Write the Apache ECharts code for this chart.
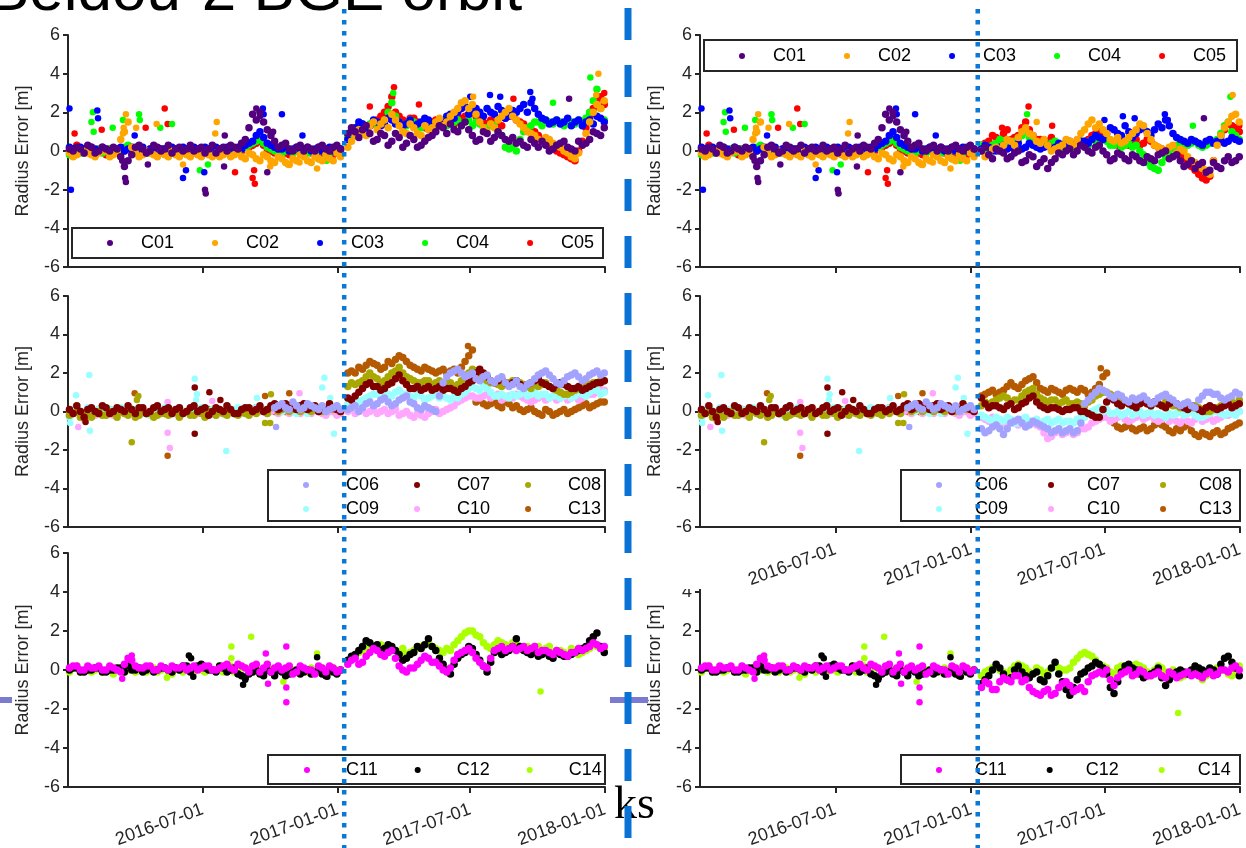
<!DOCTYPE html>
<html><head><meta charset="utf-8">
<script src="https://cdn.jsdelivr.net/npm/echarts@6/dist/echarts.min.js"></script>
<style>html,body{margin:0;padding:0;background:#fff;}#c{width:1246px;height:848px;}</style>
</head><body><div id="c"></div><script>
// ---------- sampling dates ----------
const preDates = ['2016-01-01','2016-01-11','2016-01-21','2016-01-31','2016-02-10','2016-02-20','2016-03-01','2016-03-11','2016-03-21','2016-03-31','2016-04-10','2016-04-20','2016-04-30','2016-05-10','2016-05-20','2016-05-30','2016-06-09','2016-06-19','2016-06-29','2016-07-09','2016-07-19','2016-07-29','2016-08-08','2016-08-18','2016-08-28','2016-09-07','2016-09-17','2016-09-27','2016-10-07','2016-10-17','2016-10-27','2016-11-06','2016-11-16','2016-11-26','2016-12-06','2016-12-16','2016-12-26','2017-01-05'];
const preMidDates = ['2016-01-06','2016-01-16','2016-01-26','2016-02-05','2016-02-15','2016-02-25','2016-03-06','2016-03-16','2016-03-26','2016-04-05','2016-04-15','2016-04-25','2016-05-05','2016-05-15','2016-05-25','2016-06-04','2016-06-14','2016-06-24','2016-07-04','2016-07-14','2016-07-24','2016-08-03','2016-08-13','2016-08-23','2016-09-02','2016-09-12','2016-09-22','2016-10-02','2016-10-12','2016-10-22','2016-11-01','2016-11-11','2016-11-21','2016-12-01','2016-12-11','2016-12-21','2016-12-31'];
const postDates = ['2017-01-15','2017-01-25','2017-02-04','2017-02-14','2017-02-24','2017-03-06','2017-03-16','2017-03-26','2017-04-05','2017-04-15','2017-04-25','2017-05-05','2017-05-15','2017-05-25','2017-06-04','2017-06-14','2017-06-24','2017-07-04','2017-07-14','2017-07-24','2017-08-03','2017-08-13','2017-08-23','2017-09-02','2017-09-12','2017-09-22','2017-10-02','2017-10-12','2017-10-22','2017-11-01','2017-11-11','2017-11-21','2017-12-01','2017-12-11','2017-12-21','2017-12-31'];
const postMidDates = ['2017-01-20','2017-01-30','2017-02-09','2017-02-19','2017-03-01','2017-03-11','2017-03-21','2017-03-31','2017-04-10','2017-04-20','2017-04-30','2017-05-10','2017-05-20','2017-05-30','2017-06-09','2017-06-19','2017-06-29','2017-07-09','2017-07-19','2017-07-29','2017-08-08','2017-08-18','2017-08-28','2017-09-07','2017-09-17','2017-09-27','2017-10-07','2017-10-17','2017-10-27','2017-11-06','2017-11-16','2017-11-26','2017-12-06','2017-12-16','2017-12-26'];
const eventDate = '2017-01-10';
const xAxisStart = '2015-12-30', xAxisEnd = '2018-01-01';
const xTickLabels = ['2016-07-01','2017-01-01','2017-07-01','2018-01-01'];
const yMin = -6, yMax = 6, yStep = 2;

// ---------- satellites ----------
const satNames  = ['C01','C02','C03','C04','C05','C06','C07','C08','C09','C10','C13','C11','C12','C14'];
const satColors = ['#52007f','#ffa500','#0000ff','#00ff00','#ff0000','#a3a3ff','#800000','#a8a800','#99ffff','#ffa6ff','#b55a00','#ff00ff','#000000','#aaff00'];
const rowTop = ['C01','C02','C03','C04','C05'];
const rowMid = ['C06','C07','C08','C09','C10','C13'];
const rowBot = ['C11','C12','C14'];

// ---------- values before the event (shared by both columns) ----------
const C01_pre = [0.1,0.2,-0.1,0.2,0.0,0.1,0.2,-0.3,-0.5,0.2,0.1,0.0,0.2,0.1,-0.1,0.2,0.1,0.0,0.2,0.1,-0.1,0.2,0.3,0.1,0.6,1.9,2.0,1.1,0.5,0.3,0.1,0.2,0.0,0.1,0.2,0.1,0.2,0.1];
const C02_pre = [-0.1,-0.2,0.0,-0.2,-0.1,0.0,-0.2,0.6,1.5,-0.1,-0.2,-0.1,-0.3,-0.2,0.0,-0.3,-0.2,-0.1,-0.3,-0.2,-0.1,-0.2,-0.3,-0.1,-0.4,-0.2,-0.5,-0.3,-0.6,-0.4,-0.7,-0.5,-0.3,-0.6,-0.4,-0.2,-0.5,-0.3];
const C03_pre = [0.2,0.0,0.1,0.2,0.0,0.1,0.0,0.2,0.1,0.0,0.2,0.1,0.0,0.1,0.2,0.0,0.1,0.2,0.0,0.1,0.2,0.0,0.1,0.2,0.3,0.5,1.0,0.4,0.2,0.1,0.0,0.2,0.1,0.0,0.2,0.1,0.0,0.1];
const C04_pre = [-0.2,0.1,0.0,-0.1,0.1,0.0,-0.1,0.1,0.3,0.0,0.1,-0.1,0.0,0.1,-0.1,0.0,0.1,-0.1,0.0,0.1,0.0,-0.1,0.1,0.0,0.2,0.4,0.6,0.2,0.0,-0.1,0.1,0.0,-0.2,0.0,-0.4,0.1,0.0,0.1];
const C05_pre = [0.0,0.3,-0.1,0.0,0.1,-0.2,0.0,0.1,0.2,-0.1,0.0,0.1,-0.2,0.0,0.1,-0.1,0.0,0.1,-0.2,0.0,0.1,-0.1,0.0,0.1,0.2,0.3,0.5,0.1,-0.1,0.0,-0.2,0.1,0.0,-0.1,0.1,0.0,-0.2,0.0];
const C06_pre = [null,null,null,null,null,null,null,null,null,null,null,null,null,null,null,null,null,null,null,null,null,null,null,null,null,null,null,null,0.2,0.4,0.1,0.3,0.2,0.3,0.1,0.0,0.2,0.1];
const C07_pre = [0.1,0.3,-0.3,0.2,-0.1,0.2,0.0,0.1,0.3,-0.1,0.2,0.0,0.3,0.1,-0.1,0.2,0.0,0.3,0.1,-0.2,0.2,0.0,0.1,-0.1,0.2,0.0,0.3,0.1,0.4,0.2,0.3,0.1,0.4,0.2,0.0,0.1,0.2,0.0];
const C08_pre = [-0.2,0.0,-0.1,-0.3,0.0,-0.2,-0.1,0.0,-0.2,-0.3,0.1,-0.1,-0.2,0.0,-0.1,-0.3,0.0,-0.2,-0.1,0.0,-0.2,-0.1,0.0,-0.2,-0.1,0.0,0.1,-0.1,0.3,0.1,0.0,0.2,0.1,0.0,0.1,0.0,0.1,0.0];
const C09_pre = [-0.3,0.2,0.0,-0.2,0.1,0.0,-0.1,0.2,-0.1,0.0,0.1,-0.2,0.0,0.2,-0.1,0.1,0.0,-0.1,0.2,0.0,0.1,-0.1,0.0,0.2,0.1,0.0,0.2,0.1,0.3,0.0,0.1,-0.1,0.2,0.0,0.1,0.0,0.2,0.1];
const C10_pre = [-0.2,0.0,-0.4,-0.1,0.1,0.0,-0.2,0.1,0.0,-0.1,0.0,-0.2,0.1,0.0,-0.1,0.2,0.0,-0.1,0.1,0.0,-0.2,0.0,0.1,-0.1,0.0,0.1,0.0,-0.1,0.1,0.0,-0.1,0.0,0.1,-0.1,0.0,-0.2,0.0,-0.1];
const C13_pre = [0.0,0.1,-0.1,0.0,0.1,-0.1,0.0,0.1,0.0,-0.1,0.1,0.0,0.1,-0.1,0.0,0.1,0.0,-0.1,0.0,0.1,0.0,-0.1,0.1,0.0,0.1,0.0,0.2,0.1,0.0,0.2,0.1,0.0,0.2,0.1,0.0,0.1,0.0,0.1];
const C11_pre = [0.1,0.2,0.0,0.1,0.2,0.0,0.1,-0.1,0.6,0.2,0.1,0.2,0.0,0.1,0.2,0.1,0.0,0.2,0.1,0.2,0.0,0.2,0.1,0.3,0.1,0.2,-0.1,0.3,0.1,0.0,0.2,-0.1,0.1,0.0,0.2,-0.1,0.1,0.0];
const C12_pre = [0.0,0.1,-0.1,0.0,0.1,-0.1,0.0,0.1,0.2,0.0,-0.1,0.1,0.0,0.1,-0.1,0.0,0.2,0.1,0.3,0.0,-0.1,0.1,0.0,-0.2,-0.4,-0.1,-0.2,0.0,-0.3,-0.1,-0.2,0.0,-0.1,-0.2,0.0,-0.3,-0.1,0.0];
const C14_pre = [-0.1,0.2,0.0,-0.1,0.1,0.0,-0.2,0.1,0.0,-0.1,0.1,0.0,-0.1,0.1,-0.2,0.0,0.1,-0.1,0.0,0.1,0.0,-0.1,0.2,0.0,0.1,-0.1,0.0,0.2,-0.1,0.0,0.1,-0.1,0.0,0.1,-0.1,0.0,0.1,0.0];

const C01_preMid = [0.0,0.1,0.3,-0.1,0.2,0.0,0.1,-0.8,-0.2,0.3,-0.1,0.3,0.0,0.3,0.1,0.0,0.3,0.1,-0.1,0.3,0.1,0.0,0.2,0.4,1.2,1.6,1.5,0.8,0.2,0.4,0.0,0.3,0.2,0.0,0.3,0.0,0.3];
const C02_preMid = [-0.3,0.0,-0.1,-0.3,0.0,-0.3,0.0,1.0,0.2,-0.3,0.0,-0.2,-0.1,-0.3,-0.2,-0.1,-0.3,-0.2,-0.1,-0.3,-0.3,-0.1,-0.2,-0.3,-0.1,-0.4,-0.2,-0.5,-0.3,-0.6,-0.4,-0.2,-0.5,-0.3,-0.5,-0.4,-0.1];
const C03_preMid = [0.1,0.2,0.0,0.1,0.2,0.0,0.1,0.0,0.2,0.1,0.0,0.2,0.1,0.0,0.1,0.2,0.0,0.1,0.2,0.0,0.1,0.2,0.0,0.1,0.4,0.8,0.7,0.3,0.1,0.2,0.1,0.0,0.2,0.1,0.0,0.2,0.1];
const C04_preMid = [0.0,-0.1,0.1,0.0,-0.1,0.1,0.0,0.2,0.1,-0.1,0.0,0.1,-0.1,0.0,0.1,-0.1,0.0,0.1,-0.1,0.0,0.1,0.0,-0.1,0.1,0.3,0.5,0.4,0.1,-0.1,0.0,-0.1,0.1,-0.1,-0.2,0.0,-0.1,0.0];
const C05_preMid = [0.1,0.0,0.1,-0.1,0.0,0.1,-0.1,0.0,0.1,0.0,-0.1,0.0,0.1,-0.1,0.0,0.1,-0.1,0.0,0.1,-0.1,0.0,0.1,-0.1,0.0,0.2,0.4,0.3,0.0,0.1,-0.1,0.0,-0.1,0.1,0.0,-0.1,0.1,-0.1];
const C06_preMid = [null,null,null,null,null,null,null,null,null,null,null,null,null,null,null,null,null,null,null,null,null,null,null,null,null,null,null,null,0.3,0.2,0.5,0.1,0.4,0.2,0.3,0.1,0.3];
const C07_preMid = [-0.1,0.0,0.1,0.0,0.3,-0.1,0.2,0.0,0.1,0.2,-0.1,0.2,0.0,0.2,0.1,-0.1,0.2,0.0,0.2,0.0,0.1,0.3,-0.1,0.1,0.2,0.1,0.0,0.3,0.1,0.4,0.2,0.3,0.1,0.3,0.2,0.4,0.1];
const C08_preMid = [-0.1,-0.3,-0.2,-0.1,-0.2,0.0,-0.3,-0.1,0.0,-0.2,-0.1,-0.3,-0.1,-0.2,0.0,-0.1,-0.2,0.0,-0.3,-0.1,0.0,-0.2,-0.1,0.0,-0.2,-0.1,0.0,0.2,0.0,0.3,0.1,0.0,0.2,0.1,0.0,0.2,0.1];
const C09_preMid = [0.1,-0.1,0.2,0.0,-0.2,0.1,0.0,-0.1,0.1,0.2,-0.1,0.1,-0.1,0.0,0.1,-0.1,0.2,0.0,-0.1,0.1,0.0,0.2,0.1,-0.1,0.0,0.2,0.0,0.3,0.1,0.2,0.0,0.1,-0.1,0.2,0.0,0.1,0.3];
const C10_preMid = [-0.1,-0.3,0.0,-0.2,0.0,-0.1,0.0,-0.1,0.1,-0.2,0.0,-0.1,0.0,0.1,-0.1,0.0,0.1,-0.1,0.0,-0.1,0.1,-0.1,0.0,0.1,-0.1,0.0,0.1,0.0,-0.1,0.1,0.0,-0.1,0.0,0.1,-0.1,0.0,-0.2];
const C13_preMid = [0.1,0.0,0.1,-0.1,0.0,0.1,-0.1,0.0,0.1,0.0,-0.1,0.1,0.0,0.1,-0.1,0.0,0.1,0.0,-0.1,0.1,0.0,0.1,-0.1,0.0,0.1,0.2,0.0,0.1,0.3,0.0,0.2,0.1,0.0,0.2,0.1,0.0,0.2];
const C11_preMid = [0.2,0.0,0.2,0.1,0.0,0.2,0.0,0.3,0.5,0.1,0.2,0.0,0.2,0.0,0.1,0.2,0.1,0.0,0.2,0.0,0.1,0.3,0.0,0.2,-0.1,0.3,0.1,-0.1,0.2,0.1,-0.2,0.2,0.0,-0.2,0.1,0.2,-0.1];
const C12_preMid = [0.1,-0.1,0.0,0.1,-0.1,0.0,0.1,-0.1,0.0,0.1,0.0,-0.1,0.1,0.0,0.1,0.2,-0.1,0.2,0.1,0.0,0.2,-0.1,0.1,-0.3,-0.2,0.0,-0.3,-0.1,0.0,-0.3,-0.1,-0.2,0.0,-0.1,-0.2,0.0,-0.2];
const C14_preMid = [0.1,-0.1,0.1,0.0,-0.1,0.1,0.0,-0.1,0.1,0.0,-0.1,0.1,0.0,-0.1,0.1,-0.1,0.0,0.1,-0.1,0.0,0.2,0.0,-0.1,0.1,0.0,0.1,-0.1,0.0,0.1,-0.1,0.0,0.1,-0.1,0.0,0.1,-0.1,0.0];

// ---------- values after the event, left column ----------
const C01_postL = [0.9,1.0,1.1,0.9,0.6,0.8,0.5,0.7,0.4,0.6,0.3,0.7,1.0,1.2,1.4,1.0,1.5,0.8,0.6,0.9,0.7,0.8,0.5,0.4,0.3,0.6,0.2,0.3,0.1,0.4,0.2,0.0,0.3,0.6,0.9,1.2];
const C02_postL = [0.2,0.8,1.0,1.3,1.1,1.6,1.9,1.3,0.9,1.2,0.8,1.1,1.5,1.3,1.8,2.2,2.6,2.4,1.5,1.0,1.2,1.8,2.2,1.6,1.2,0.9,0.6,0.7,0.4,0.2,-0.1,-0.4,0.3,1.5,2.4,2.6];
const C03_postL = [0.6,1.2,1.4,1.3,1.5,1.4,1.6,1.5,1.4,1.3,1.5,1.6,1.4,1.5,1.9,2.0,2.3,2.1,2.0,2.2,1.9,2.1,1.8,2.0,2.4,2.5,1.9,1.6,1.5,1.4,1.7,1.5,1.3,1.6,1.8,1.5];
const C04_postL = [0.7,1.0,1.2,1.4,1.3,1.6,2.5,1.5,1.3,1.5,1.2,1.4,1.3,1.5,1.4,1.6,1.5,1.3,1.4,1.2,1.3,0.8,0.1,0.0,1.0,1.3,1.5,1.6,1.4,1.5,1.6,1.4,1.5,2.0,3.2,1.6];
const C05_postL = [0.8,1.1,1.4,1.3,1.6,2.0,2.8,1.8,1.5,1.7,1.4,1.3,1.6,1.4,1.7,1.5,1.8,2.0,1.6,1.4,1.5,1.3,1.9,1.6,1.4,1.1,0.8,0.5,0.2,-0.1,-0.3,-0.5,0.5,1.8,2.6,2.4];
const C06_postL = [0.1,0.3,0.2,0.5,0.4,0.7,0.3,0.6,0.8,0.4,0.1,0.2,0.0,1.5,2.0,2.2,1.8,2.0,1.6,1.9,1.5,1.8,1.3,1.6,1.2,1.5,1.9,2.1,1.7,1.4,1.8,2.0,1.6,1.9,2.1,2.0];
const C07_postL = [0.7,0.8,1.2,1.5,1.3,1.2,1.5,1.9,1.4,1.2,1.1,1.3,1.2,1.1,1.2,1.0,1.3,1.6,2.2,1.8,1.5,1.7,1.4,1.6,1.3,1.5,1.7,1.4,1.2,1.5,1.3,1.2,1.1,1.3,1.5,1.6];
const C08_postL = [1.3,1.4,1.6,2.0,1.7,1.6,2.0,2.3,1.8,1.6,1.5,1.6,1.5,1.4,1.5,1.4,1.8,2.2,1.9,1.6,1.5,1.3,1.5,1.6,1.4,1.2,1.3,1.5,1.2,1.0,0.9,1.1,1.2,1.4,1.5,1.6];
const C09_postL = [0.4,0.3,0.6,0.8,0.9,1.0,0.8,1.1,0.9,0.7,0.8,0.7,0.9,0.8,0.6,0.7,1.0,1.3,1.1,1.2,0.8,0.9,0.7,0.8,1.0,0.9,0.8,0.9,0.8,0.7,0.9,0.8,0.9,1.0,1.1,1.0];
const C10_postL = [0.0,-0.1,0.1,0.0,-0.1,0.1,0.0,-0.2,0.0,-0.3,-0.2,-0.1,0.1,0.0,0.2,0.5,0.7,0.8,0.7,0.9,0.8,0.6,0.8,0.9,0.7,0.5,0.7,0.6,0.8,0.7,0.6,0.8,0.7,0.9,1.0,1.1];
const C13_postL = [2.0,2.0,2.2,2.6,2.4,2.3,2.5,2.9,2.6,2.3,2.1,2.2,2.0,2.2,2.1,2.0,2.6,3.2,0.6,0.3,0.5,0.2,0.4,0.3,0.0,0.2,-0.1,0.1,-0.2,0.0,-0.1,0.1,0.3,0.2,0.4,0.5];
const C11_postL = [0.3,0.6,0.4,0.9,1.0,0.7,1.0,0.2,-0.1,0.1,0.5,0.6,0.4,0.0,0.1,0.8,1.0,0.9,0.4,0.1,1.0,1.2,1.1,1.0,1.2,1.1,0.9,1.0,0.8,0.9,0.7,0.9,1.0,1.2,1.3,1.2];
const C12_postL = [0.5,0.8,1.2,1.4,1.3,1.1,1.2,0.8,0.6,0.9,1.1,1.6,1.0,0.3,-0.2,0.6,0.9,1.1,0.5,-0.1,0.9,0.8,1.0,1.6,1.0,0.8,0.7,0.9,0.6,0.8,0.7,0.9,1.1,1.5,1.9,0.9];
const C14_postL = [0.4,0.7,1.0,1.3,1.2,1.0,1.1,0.9,0.8,1.0,1.2,1.4,1.1,0.9,1.0,1.5,1.9,2.0,1.7,1.2,1.3,1.4,1.2,1.3,1.1,1.0,1.2,1.1,0.9,1.0,0.8,1.0,0.9,1.1,1.2,1.0];

const C01_postMidL = [1.2,0.7,1.3,0.5,0.9,0.3,0.9,0.2,0.8,0.2,0.5,0.8,1.3,0.9,1.1,1.3,1.1,0.5,1.0,0.5,1.0,0.6,0.7,0.5,0.2,0.4,0.5,0.0,0.3,0.5,0.1,0.5,0.4,1.0,0.8];
const C02_postMidL = [0.5,1.1,0.8,1.5,1.4,1.2,1.6,1.0,1.4,0.9,1.3,1.2,1.7,1.5,2.0,2.5,2.2,1.9,1.2,1.4,1.6,2.0,1.8,1.4,1.0,0.8,0.5,0.6,0.3,0.0,-0.3,-0.1,0.9,2.0,2.2];
const C03_postMidL = [1.0,1.5,1.2,1.6,1.3,1.7,1.4,1.3,1.6,1.4,1.7,1.3,1.6,1.8,1.7,2.2,1.9,2.2,1.8,2.0,2.3,1.7,2.1,2.2,2.0,2.2,1.7,1.4,1.6,1.5,1.3,1.6,1.5,1.4,1.7];
const C04_postMidL = [0.9,1.3,1.1,1.5,1.4,2.0,1.8,1.2,1.6,1.3,1.5,1.2,1.6,1.3,1.5,1.3,1.6,1.5,1.2,1.4,1.0,0.2,0.2,0.6,1.2,1.5,1.3,1.5,1.6,1.3,1.5,1.6,1.7,2.6,2.2];
const C05_postMidL = [1.0,1.3,1.2,1.5,1.8,2.3,2.0,1.6,1.7,1.5,1.2,1.5,1.3,1.6,1.4,1.7,1.9,1.8,1.5,1.6,1.4,1.7,1.8,1.5,1.2,1.0,0.6,0.4,0.0,-0.2,-0.4,0.0,1.2,2.2,2.8];
const C06_postMidL = [0.2,0.0,0.4,0.3,0.6,0.5,0.4,0.7,0.5,0.2,0.3,0.1,0.8,1.8,2.1,2.0,1.9,1.7,1.8,1.6,1.7,1.5,1.4,1.3,1.4,1.7,2.0,1.9,1.5,1.6,1.9,1.8,1.7,2.0,1.9];
const C07_postMidL = [0.6,1.0,1.4,1.3,1.1,1.4,1.7,1.6,1.2,1.3,1.2,1.1,1.3,1.2,1.1,1.2,1.5,2.0,2.0,1.6,1.6,1.5,1.5,1.4,1.4,1.6,1.5,1.3,1.4,1.4,1.2,1.3,1.2,1.4,1.5];
const C08_postMidL = [1.5,1.5,1.8,1.8,1.5,1.8,2.1,2.0,1.7,1.5,1.6,1.4,1.6,1.5,1.3,1.6,2.0,2.1,1.7,1.5,1.4,1.4,1.6,1.5,1.3,1.4,1.4,1.3,1.1,0.9,1.0,1.2,1.3,1.5,1.6];
const C09_postMidL = [0.2,0.5,0.7,0.9,0.8,0.9,1.0,0.9,0.8,0.9,0.6,0.8,0.7,0.7,0.8,0.9,1.2,1.2,1.3,1.0,0.8,0.8,0.9,0.9,0.8,1.0,0.9,0.7,0.8,0.8,0.7,1.0,0.8,1.1,0.9];
const C10_postMidL = [0.1,0.0,-0.1,0.1,0.0,-0.1,0.1,-0.1,-0.2,-0.1,-0.3,0.0,-0.1,0.1,0.3,0.6,0.8,0.7,0.8,0.7,0.9,0.7,0.7,0.8,0.6,0.6,0.8,0.7,0.6,0.8,0.7,0.6,0.8,0.9,1.1];
const C13_postMidL = [2.1,2.3,2.4,2.5,2.2,2.6,2.7,2.8,2.4,2.2,2.3,2.1,2.1,2.0,2.2,2.3,2.9,0.5,0.4,0.4,0.3,0.5,0.2,0.1,0.1,0.0,-0.2,0.0,-0.1,0.1,0.0,0.2,0.4,0.3,0.5];
const C11_postMidL = [0.5,0.3,0.7,1.1,0.8,0.9,0.6,0.0,0.1,0.3,0.7,0.4,0.2,-0.1,0.5,0.9,1.1,0.6,0.2,0.6,1.1,1.0,1.2,1.1,1.0,1.2,1.0,0.9,1.0,0.8,0.9,1.1,1.1,1.4,1.1];
const C12_postMidL = [0.7,1.0,1.5,1.2,1.0,1.3,1.0,0.5,0.8,1.2,1.3,1.2,0.6,0.0,0.3,0.8,1.2,0.8,0.2,0.4,1.0,0.9,1.2,1.2,0.9,0.9,0.8,0.7,0.9,0.7,0.8,1.0,1.2,1.7,1.2];
const C14_postMidL = [0.6,0.9,1.2,1.1,1.3,0.9,1.0,1.1,0.9,1.1,1.3,1.2,1.0,1.1,1.3,1.7,2.0,1.8,1.4,1.1,1.5,1.3,1.4,1.2,1.2,1.1,1.0,1.2,1.0,0.9,1.1,0.8,1.0,1.3,1.1];

// ---------- values after the event, right column ----------
const C01_postR = [0.0,-0.2,0.1,-0.1,-0.3,0.0,-0.5,-0.3,-0.6,-0.9,-0.4,-0.2,0.1,0.0,0.2,-0.1,0.3,-0.2,-0.4,-0.2,-0.5,-0.3,-0.6,-0.4,-0.2,0.0,-0.3,-0.5,-0.7,-0.9,-0.6,-1.0,-0.8,-0.5,-0.6,-0.3];
const C02_postR = [0.0,-0.2,0.2,0.3,0.5,0.7,1.2,0.8,0.4,0.3,0.1,0.3,0.5,0.6,1.1,1.6,1.4,0.9,0.5,0.4,0.7,1.1,1.3,0.6,0.2,0.0,0.3,0.1,-0.3,-0.6,-0.9,-1.2,0.3,1.2,1.8,1.5];
const C03_postR = [0.1,0.2,0.0,0.3,0.2,0.4,0.2,0.3,0.1,0.3,0.2,0.3,0.4,0.3,0.5,0.6,0.7,0.9,1.1,0.8,1.0,0.9,1.2,0.8,1.4,1.6,0.9,0.6,0.4,0.5,0.3,0.6,0.5,0.4,0.7,0.5];
const C04_postR = [0.3,0.2,0.4,0.5,0.3,0.6,1.0,0.5,0.4,0.3,0.5,0.2,0.4,0.3,0.5,0.6,0.4,0.5,0.3,0.2,0.4,0.3,-0.2,-0.8,-1.0,-0.3,0.2,0.4,0.3,0.5,0.2,0.4,0.6,1.3,1.0,0.6];
const C05_postR = [0.3,0.5,0.7,0.9,0.6,0.8,1.5,0.8,0.6,0.5,0.4,0.3,0.5,0.4,0.3,0.8,1.0,0.6,0.4,0.5,0.3,0.6,0.4,0.5,0.2,0.0,0.2,-0.2,-0.6,-1.0,-1.4,-1.3,0.4,1.1,1.3,1.0];
const C06_postR = [-0.9,-1.0,-0.7,-1.2,-0.6,-0.4,-0.8,-0.5,-0.7,-0.9,-1.0,-1.1,-0.9,-1.0,0.4,0.8,1.2,1.0,0.7,0.8,0.5,0.6,0.8,0.4,0.7,0.9,0.6,0.3,0.5,0.2,0.8,1.0,0.9,0.6,0.8,0.9];
const C07_postR = [0.7,0.2,0.3,0.1,0.4,0.2,0.5,0.8,0.3,0.1,0.2,0.0,0.1,0.2,0.0,-0.2,-0.3,0.5,0.6,0.3,0.4,0.2,0.5,0.3,0.4,0.2,0.5,0.3,0.1,0.2,0.0,0.3,0.1,0.3,0.2,0.4];
const C08_postR = [0.3,0.4,0.6,0.8,0.5,0.6,1.0,1.2,0.7,0.5,0.6,0.5,0.4,0.5,0.3,0.6,0.9,1.0,0.8,0.5,0.4,0.6,0.5,0.3,0.4,0.5,0.3,0.2,0.4,0.3,0.1,0.0,0.2,0.4,0.5,0.6];
const C09_postR = [-0.2,-0.4,-0.3,-0.5,-0.4,-0.6,-0.3,-0.5,-0.6,-0.4,-0.5,-0.6,-0.5,-0.4,-0.3,0.0,0.2,0.1,-0.1,-0.2,0.0,-0.1,-0.2,0.0,-0.1,-0.3,-0.2,0.0,-0.1,-0.2,-0.3,-0.1,0.0,-0.2,-0.1,0.0];
const C10_postR = [-0.3,-0.5,-0.4,-0.6,-0.5,-0.7,-0.4,-0.6,-0.8,-1.4,-1.1,-1.2,-1.0,-1.1,-0.9,-0.6,-0.4,-0.3,-0.4,-0.2,-0.5,-0.3,-0.4,-0.2,-0.5,-0.3,-0.4,-0.6,-0.5,-0.4,-0.5,-0.3,-0.4,-0.2,-0.1,0.0];
const C13_postR = [0.8,1.0,0.9,1.1,1.5,1.2,1.6,1.8,1.2,1.0,1.1,0.9,1.2,1.0,1.1,1.0,1.4,2.0,-0.6,-0.9,-0.7,-1.0,-0.8,-0.9,-0.6,-0.8,-1.1,-1.0,-0.7,-1.2,-1.1,-1.3,-1.0,-1.1,-0.8,-0.6];
const C11_postR = [-0.9,-0.7,-1.0,-0.4,-0.6,-0.3,-0.5,-1.1,-1.3,-1.0,-1.2,-0.7,-0.8,-1.0,-1.1,-0.3,-0.1,0.0,-0.8,-0.2,0.0,-0.2,-0.1,-0.3,-0.1,-0.4,-0.2,-0.3,-0.1,-0.2,-0.4,-0.1,-0.2,0.0,0.1,0.0];
const C12_postR = [-0.7,-0.3,0.3,-0.2,-0.4,0.2,-0.3,-0.2,-0.5,-0.3,0.4,-0.6,-1.3,-0.5,-0.1,0.2,0.3,-0.2,-1.2,-0.1,0.3,0.0,-0.4,-0.2,0.1,-0.8,-0.3,0.0,-0.2,0.2,0.0,0.1,-0.2,0.6,0.4,-0.3];
const C14_postR = [-0.3,0.0,0.2,-0.1,0.0,0.3,0.1,-0.2,0.0,-0.1,0.2,0.0,0.1,0.6,0.9,0.7,0.3,0.1,-0.2,0.2,0.0,0.3,0.1,-0.3,0.2,-0.1,0.0,-0.4,-0.2,0.0,-0.5,-0.2,0.1,0.0,-0.3,0.2];

const C01_postMidR = [0.2,-0.4,0.0,-0.4,-0.1,-0.6,-0.2,-0.8,-0.4,-0.6,-0.1,0.0,-0.2,0.3,0.0,0.2,0.0,-0.5,-0.1,-0.4,-0.2,-0.5,-0.3,-0.5,-0.1,-0.4,-0.2,-0.8,-0.5,-0.7,-1.1,-0.6,-0.9,-0.3,-0.5];
const C02_postMidR = [-0.3,0.1,0.0,0.6,0.3,1.0,0.9,0.5,0.6,0.0,0.2,0.6,0.3,0.9,1.4,1.2,1.1,0.6,0.7,0.5,0.9,1.4,0.9,0.3,0.1,0.2,-0.1,0.0,-0.5,-0.8,-1.0,-0.5,0.8,1.5,1.9];
const C03_postMidR = [0.3,0.0,0.2,0.1,0.3,0.1,0.4,0.2,0.2,0.1,0.4,0.2,0.3,0.5,0.4,0.8,0.6,1.2,0.9,1.3,0.7,1.1,1.0,1.1,1.2,1.3,0.7,0.5,0.6,0.4,0.5,0.4,0.6,0.5,0.6];
const C04_postMidR = [0.1,0.3,0.6,0.2,0.5,0.8,0.7,0.3,0.5,0.4,0.3,0.5,0.2,0.4,0.3,0.5,0.6,0.3,0.5,0.3,0.2,0.0,-0.6,-0.9,-0.6,0.0,0.3,0.2,0.4,0.3,0.3,0.5,0.9,1.5,0.8];
const C05_postMidR = [0.4,0.8,0.6,1.1,0.7,1.2,1.1,0.6,0.5,0.7,0.3,0.4,0.3,0.5,0.6,0.9,0.7,0.5,0.3,0.4,0.5,0.3,0.6,0.3,0.1,0.1,-0.1,-0.4,-0.8,-1.2,-1.5,-0.5,0.8,1.4,1.2];
const C06_postMidR = [-1.1,-0.8,-0.9,-0.9,-0.5,-0.6,-0.7,-0.6,-0.8,-1.1,-0.9,-1.0,-1.1,-0.6,0.6,1.0,1.1,0.8,0.9,0.6,0.7,0.7,0.6,0.5,0.8,0.7,0.4,0.4,0.3,0.6,1.0,0.9,0.7,0.7,1.0];
const C07_postMidR = [0.4,0.3,0.2,0.3,0.1,0.4,0.7,0.5,0.2,0.2,0.1,0.1,0.2,0.0,-0.1,-0.3,0.1,0.7,0.4,0.5,0.3,0.4,0.4,0.5,0.3,0.4,0.4,0.2,0.3,0.1,0.2,0.2,0.2,0.4,0.3];
const C08_postMidR = [0.5,0.5,0.7,0.7,0.6,0.8,1.1,0.9,0.6,0.6,0.4,0.6,0.4,0.4,0.5,0.8,1.0,0.9,0.6,0.5,0.5,0.4,0.4,0.5,0.3,0.4,0.3,0.3,0.2,0.2,0.0,0.1,0.3,0.5,0.4];
const C09_postMidR = [-0.3,-0.5,-0.4,-0.3,-0.6,-0.4,-0.5,-0.4,-0.5,-0.6,-0.4,-0.5,-0.6,-0.3,-0.1,0.1,0.0,-0.1,0.0,-0.1,-0.2,0.0,-0.1,-0.2,-0.2,-0.1,-0.1,-0.2,0.0,-0.3,-0.2,0.0,-0.1,-0.1,-0.2];
const C10_postMidR = [-0.4,-0.3,-0.5,-0.5,-0.6,-0.5,-0.5,-0.7,-1.1,-1.3,-1.0,-1.1,-1.2,-0.9,-0.8,-0.5,-0.3,-0.5,-0.3,-0.4,-0.4,-0.2,-0.3,-0.4,-0.4,-0.5,-0.5,-0.4,-0.6,-0.3,-0.4,-0.5,-0.3,-0.2,-0.1];
const C13_postMidR = [0.9,1.1,1.0,1.3,1.3,1.4,1.7,1.5,1.1,1.2,1.0,1.1,1.1,1.2,0.9,1.2,1.8,-0.4,-0.8,-0.8,-0.9,-0.9,-1.0,-0.7,-0.7,-1.0,-0.9,-0.8,-1.0,-1.3,-1.2,-1.1,-1.2,-0.9,-0.7];
const C11_postMidR = [-0.6,-1.0,-0.6,-0.5,-0.3,-0.6,-0.9,-1.2,-1.1,-1.3,-0.9,-0.6,-1.1,-0.9,-0.6,-0.2,-0.2,-0.5,-0.4,-0.1,-0.3,0.0,-0.3,-0.2,-0.3,-0.1,-0.4,-0.2,-0.3,-0.3,-0.2,-0.3,0.0,-0.1,0.2];
const C12_postMidR = [-0.5,0.0,0.1,-0.5,0.0,-0.1,-0.4,-0.1,-0.6,0.1,-0.2,-1.0,-0.9,-0.2,0.1,0.4,0.1,-0.9,-0.6,0.2,0.1,-0.2,-0.3,-0.1,-0.4,-0.5,-0.1,-0.1,0.0,0.1,-0.1,0.0,0.3,0.7,0.1];
const C14_postMidR = [-0.1,0.1,0.0,-0.2,0.2,0.2,-0.1,0.1,-0.2,0.1,0.1,0.0,0.4,0.8,0.8,0.5,0.2,-0.1,0.1,0.1,0.2,0.2,-0.1,0.0,0.1,-0.2,-0.2,-0.3,-0.1,-0.3,-0.3,-0.1,0.0,-0.2,0.0];

// ---------- isolated points [date, value] ----------
const C01_outPre = [['2016-03-13',-0.5],['2016-03-17',-1.4],['2016-03-18',-1.6],['2016-04-17',-0.7],['2016-07-04',-2.0],['2016-07-05',-2.2],['2016-07-30',-0.8],['2016-07-31',0.8],['2016-09-27',-1.1],['2016-10-05',1.0],['2016-09-12',2.2],['2016-09-17',1.8]];
const C02_outPre = [['2016-03-18',1.9],['2016-03-15',1.2],['2016-03-14',0.9],['2016-04-29',1.4],['2016-07-20',1.5],['2016-07-18',0.9],['2016-06-04',-0.7],['2016-10-01',-0.8],['2016-10-25',-0.7],['2016-11-10',-0.6],['2016-12-04',-0.9],['2016-04-01',1.2]];
const C03_outPre = [['2016-01-01',2.2],['2016-01-03',-2.0],['2016-02-08',2.1],['2016-02-09',1.7],['2016-06-04',-1.4],['2016-06-08',-1.0],['2016-07-03',-1.1],['2016-09-21',2.2],['2016-09-22',1.9],['2016-10-17',1.9],['2016-11-14',0.8],['2016-03-30',0.8]];
const C04_outPre = [['2016-02-02',2.0],['2016-01-31',1.5],['2016-02-03',1.0],['2016-04-05',1.9],['2016-04-06',1.6],['2016-02-29',1.2],['2016-05-04',1.2],['2016-05-20',1.4],['2016-06-27',-1.0],['2016-07-08',-0.7],['2016-12-17',-0.5],['2016-03-14',1.6]];
const C05_outPre = [['2016-05-10',2.2],['2016-04-14',1.2],['2016-02-14',1.1],['2016-08-14',-1.1],['2016-09-09',-1.0],['2016-09-07',-1.4],['2016-09-10',-1.7],['2016-01-08',0.9],['2016-05-14',1.4]];
const C06_outPre = [['2016-10-09',-0.8]];
const C07_outPre = [['2016-06-20',1.25],['2016-06-20',-1.15],['2016-07-10',1.0],['2016-01-23',-0.55],['2016-07-25',0.6]];
const C08_outPre = [['2016-03-26',-1.6],['2016-04-04',0.8],['2016-04-02',0.6],['2016-10-02',0.9],['2016-09-24',-0.6],['2016-10-01',-0.6]];
const C09_outPre = [['2016-01-28',1.9],['2016-01-10',0.85],['2016-01-02',-0.6],['2016-01-29',-1.0],['2016-06-20',1.7],['2016-06-23',0.9],['2016-06-22',0.6],['2016-08-02',-2.05],['2016-12-11',1.25],['2016-12-14',1.75],['2016-12-27',-1.15],['2016-12-22',0.7],['2016-09-13',0.7]];
const C10_outPre = [['2016-05-14',-1.1],['2016-05-17',-1.9],['2016-01-13',-0.8],['2016-05-14',0.5],['2016-07-14',0.55],['2016-11-10',0.95]];
const C13_outPre = [['2016-05-14',-2.3],['2016-03-30',0.95],['2016-10-27',0.95],['2016-09-24',0.8]];
const C11_outPre = [['2016-03-26',0.75],['2016-03-23',0.6],['2016-10-23',1.2],['2016-10-23',-0.9],['2016-10-23',-1.65],['2016-09-25',0.85],['2016-09-28',-0.7],['2016-03-13',-0.45]];
const C12_outPre = [['2016-06-12',0.75],['2016-06-15',0.6],['2016-08-25',-0.75],['2016-08-28',-0.5],['2016-06-18',-0.35],['2016-12-04',0.65],['2016-12-18',-0.35]];
const C14_outPre = [['2016-09-05',1.7],['2016-08-09',1.2],['2016-08-09',0.6],['2016-10-19',-0.6],['2016-05-13',-0.4],['2016-12-04',0.85]];

const C01_outL = [['2017-11-13',2.7]];
const C02_outL = [['2017-12-23',4.0],['2017-07-05',2.8],['2017-12-20',2.9],['2017-12-27',2.2]];
const C03_outL = [['2017-07-28',2.9],['2017-08-11',2.8],['2017-09-21',3.05],['2017-09-24',2.7],['2017-07-01',2.8]];
const C04_outL = [['2017-12-12',3.8],['2017-03-18',3.0],['2017-10-22',2.5]];
const C05_outL = [['2017-03-19',3.3],['2017-02-14',2.3],['2017-04-22',2.4],['2017-12-31',3.0],['2017-08-29',2.7]];
const C13_outL = [['2017-06-28',3.4]];
const C14_outL = [['2017-10-05',-1.1]];

const C01_outR = [['2017-11-13',1.7]];
const C02_outR = [['2017-12-22',2.9],['2017-03-31',1.5]];
const C03_outR = [['2017-07-26',1.8],['2017-08-11',1.7],['2017-09-21',1.9],['2017-09-25',1.6],['2017-07-01',1.6]];
const C04_outR = [['2017-03-18',1.9],['2017-12-19',2.8],['2017-10-29',1.3]];
const C05_outR = [['2017-03-20',2.3],['2017-04-21',1.3],['2017-12-31',1.3],['2017-02-12',1.2]];
const C13_outR = [['2017-06-26',2.25]];
const C14_outR = [['2017-10-09',-2.2]];

// ---------- lookup table built from the arrays ----------
const SAT = {
  C01:{pre:C01_pre,preMid:C01_preMid,postL:C01_postL,postMidL:C01_postMidL,postR:C01_postR,postMidR:C01_postMidR,outPre:C01_outPre,outL:C01_outL,outR:C01_outR},
  C02:{pre:C02_pre,preMid:C02_preMid,postL:C02_postL,postMidL:C02_postMidL,postR:C02_postR,postMidR:C02_postMidR,outPre:C02_outPre,outL:C02_outL,outR:C02_outR},
  C03:{pre:C03_pre,preMid:C03_preMid,postL:C03_postL,postMidL:C03_postMidL,postR:C03_postR,postMidR:C03_postMidR,outPre:C03_outPre,outL:C03_outL,outR:C03_outR},
  C04:{pre:C04_pre,preMid:C04_preMid,postL:C04_postL,postMidL:C04_postMidL,postR:C04_postR,postMidR:C04_postMidR,outPre:C04_outPre,outL:C04_outL,outR:C04_outR},
  C05:{pre:C05_pre,preMid:C05_preMid,postL:C05_postL,postMidL:C05_postMidL,postR:C05_postR,postMidR:C05_postMidR,outPre:C05_outPre,outL:C05_outL,outR:C05_outR},
  C06:{pre:C06_pre,preMid:C06_preMid,postL:C06_postL,postMidL:C06_postMidL,postR:C06_postR,postMidR:C06_postMidR,outPre:C06_outPre,outL:[],outR:[]},
  C07:{pre:C07_pre,preMid:C07_preMid,postL:C07_postL,postMidL:C07_postMidL,postR:C07_postR,postMidR:C07_postMidR,outPre:C07_outPre,outL:[],outR:[]},
  C08:{pre:C08_pre,preMid:C08_preMid,postL:C08_postL,postMidL:C08_postMidL,postR:C08_postR,postMidR:C08_postMidR,outPre:C08_outPre,outL:[],outR:[]},
  C09:{pre:C09_pre,preMid:C09_preMid,postL:C09_postL,postMidL:C09_postMidL,postR:C09_postR,postMidR:C09_postMidR,outPre:C09_outPre,outL:[],outR:[]},
  C10:{pre:C10_pre,preMid:C10_preMid,postL:C10_postL,postMidL:C10_postMidL,postR:C10_postR,postMidR:C10_postMidR,outPre:C10_outPre,outL:[],outR:[]},
  C13:{pre:C13_pre,preMid:C13_preMid,postL:C13_postL,postMidL:C13_postMidL,postR:C13_postR,postMidR:C13_postMidR,outPre:C13_outPre,outL:C13_outL,outR:C13_outR},
  C11:{pre:C11_pre,preMid:C11_preMid,postL:C11_postL,postMidL:C11_postMidL,postR:C11_postR,postMidR:C11_postMidR,outPre:C11_outPre,outL:[],outR:[]},
  C12:{pre:C12_pre,preMid:C12_preMid,postL:C12_postL,postMidL:C12_postMidL,postR:C12_postR,postMidR:C12_postMidR,outPre:C12_outPre,outL:[],outR:[]},
  C14:{pre:C14_pre,preMid:C14_preMid,postL:C14_postL,postMidL:C14_postMidL,postR:C14_postR,postMidR:C14_postMidR,outPre:C14_outPre,outL:C14_outL,outR:C14_outR}
};

const ts = s => { const p = s.split('-').map(Number); return Date.UTC(p[0], p[1]-1, p[2]); };
const pad2 = n => (n < 10 ? '0' : '') + n;
const fmtDate = v => { const d = new Date(v); return d.getUTCFullYear() + '-' + pad2(d.getUTCMonth()+1) + '-' + pad2(d.getUTCDate()); };

function pushPairs(out, dates, vals) { dates.forEach((d, i) => { if (vals[i] != null) out.push([ts(d), vals[i]]); }); }
function bandData(name, side) {
  const s = SAT[name], out = [];
  pushPairs(out, preDates, s.pre);
  pushPairs(out, preMidDates, s.preMid);
  pushPairs(out, postDates, side === 'L' ? s.postL : s.postR);
  pushPairs(out, postMidDates, side === 'L' ? s.postMidL : s.postMidR);
  return out;
}
function isolatedData(name, side) {
  const s = SAT[name], out = [];
  s.outPre.forEach(p => out.push([ts(p[0]), p[1]]));
  (side === 'L' ? s.outL : s.outR).forEach(p => out.push([ts(p[0]), p[1]]));
  return out;
}

// ---------- layout ----------
const AX = '#262626';
const FONT = '"Liberation Sans", Arial, sans-serif';
const grids = [
  {left:68, top:35, width:537, height:232}, {left:700, top:35, width:540, height:232},
  {left:68, top:296, width:537, height:231}, {left:700, top:296, width:540, height:231},
  {left:68, top:553, width:537, height:234}, {left:700, top:553, width:540, height:234}
];
const panelRows = [rowTop, rowTop, rowMid, rowMid, rowBot, rowBot];
const panelSide = ['L','R','L','R','L','R'];
const panelHasXLabels = [false, false, false, true, true, true];
const tickVals = xTickLabels.map(ts);
const colorOf = {}; satNames.forEach((n, i) => colorOf[n] = satColors[i]);

const xAxes = grids.map((g, i) => ({
  gridIndex: i, type: 'value', min: ts(xAxisStart), max: ts(xAxisEnd), z: i === 3 ? 5 : 0,
  axisLine: {show: true, onZero: false, lineStyle: {color: AX, width: 2}},
  axisTick: {show: true, customValues: tickVals, length: 6, lineStyle: {color: AX, width: 2}},
  axisLabel: {show: panelHasXLabels[i], customValues: tickVals, rotate: 20, margin: 22, fontSize: 18, color: AX, fontFamily: FONT, formatter: fmtDate},
  splitLine: {show: false}
}));
const yAxes = grids.map((g, i) => ({
  gridIndex: i, type: 'value', min: yMin, max: yMax, interval: yStep,
  name: 'Radius Error [m]', nameLocation: 'middle', nameGap: 36,
  nameTextStyle: {fontSize: 18, color: AX, fontFamily: FONT},
  axisLine: {show: true, onZero: false, lineStyle: {color: AX, width: 2}},
  axisTick: {show: true, length: 5, lineStyle: {color: AX, width: 2}},
  axisLabel: {fontSize: 18, color: AX, fontFamily: FONT, margin: 8},
  splitLine: {show: false}
}));

const series = [];
grids.forEach((g, gi) => {
  panelRows[gi].slice().reverse().forEach(name => {
    const base = {type: 'scatter', name, xAxisIndex: gi, yAxisIndex: gi, symbol: 'circle', silent: true, z: 2,
      itemStyle: {color: colorOf[name], opacity: 1}, emphasis: {disabled: true}};
    series.push(Object.assign({}, base, {data: bandData(name, panelSide[gi]), symbolSize: 7.5}));
    series.push(Object.assign({}, base, {data: isolatedData(name, panelSide[gi]), symbolSize: 6.5}));
  });
});

function legend(names, left, top, tp, gap) {
  return {data: names, left, top, orient: 'horizontal', padding: 0, itemGap: gap,
    itemWidth: 6, itemHeight: 6, icon: 'circle', selectedMode: false, z: 4,
    textStyle: {fontSize: 18, color: '#000', fontFamily: FONT, lineHeight: 20, padding: [0, 0, 0, tp]}};
}
const legends = [
  legend(rowTop, 107, 233, 23, 38), legend(rowTop, 739, 46, 23, 38),
  legend(rowMid.slice(0,3), 303, 475, 32, 35), legend(rowMid.slice(3), 303, 499, 32, 35),
  legend(rowMid.slice(0,3), 936, 475, 28, 40), legend(rowMid.slice(3), 936, 499, 28, 40),
  legend(rowBot, 304, 760, 31, 37), legend(rowBot, 936, 760, 28, 40)
];

const chart = echarts.init(document.getElementById('c'), null, {renderer: 'canvas', width: 1246, height: 848});
chart.setOption({
  animation: false, backgroundColor: '#fff',
  grid: grids.map(g => Object.assign({outerBoundsMode: 'none', containLabel: false}, g)),
  xAxis: xAxes, yAxis: yAxes, legend: legends, series
});

const xL = chart.convertToPixel({xAxisIndex: 0}, ts(eventDate));
const xR = chart.convertToPixel({xAxisIndex: 1}, ts(eventDate));
const boxes = [[72,228,531,30],[704,40,533,31],[268,470,337,51],[901,470,339,51],[268,755,337,29],[901,755,339,29]];
const G = [];
boxes.forEach(b => G.push({type: 'rect', z: 3, silent: true, shape: {x: b[0], y: b[1], width: b[2], height: b[3]}, style: {fill: '#fff', stroke: AX, lineWidth: 2}}));
G.push({type: 'rect', z: 1, silent: true, shape: {x: 640, y: 537, width: 606, height: 52}, style: {fill: '#fff'}});
G.push({type: 'text', z: 10, silent: true, x: -12, y: -7, style: {text: 'Beidou-2 BGE orbit', font: '62px "Liberation Sans", Arial, sans-serif', fill: '#000', verticalAlign: 'middle', align: 'left'}});
G.push({type: 'text', z: 9, silent: true, x: 614, y: 806, style: {text: 'ks', font: '46px "Liberation Serif", serif', fill: '#000', verticalAlign: 'middle', align: 'left'}});
G.push({type: 'rect', z: 9, silent: true, shape: {x: 0, y: 697, width: 12, height: 6}, style: {fill: '#7a7ad0'}});
G.push({type: 'rect', z: 9, silent: true, shape: {x: 610, y: 697, width: 38, height: 6}, style: {fill: '#7a7ad0'}});
G.push({type: 'line', z: 10, silent: true, shape: {x1: 628, y1: 8, x2: 628, y2: 848}, style: {stroke: '#0a72d5', lineWidth: 7, lineDash: [32, 25]}});
G.push({type: 'line', z: 10, silent: true, shape: {x1: xL, y1: 9, x2: xL, y2: 848}, style: {stroke: '#0a78d8', lineWidth: 4.5, lineDash: [4.5, 6.5]}});
G.push({type: 'line', z: 10, silent: true, shape: {x1: xR, y1: 9, x2: xR, y2: 848}, style: {stroke: '#0a78d8', lineWidth: 4.5, lineDash: [4.5, 6.5]}});
chart.setOption({graphic: {elements: G}});
</script></body></html>
